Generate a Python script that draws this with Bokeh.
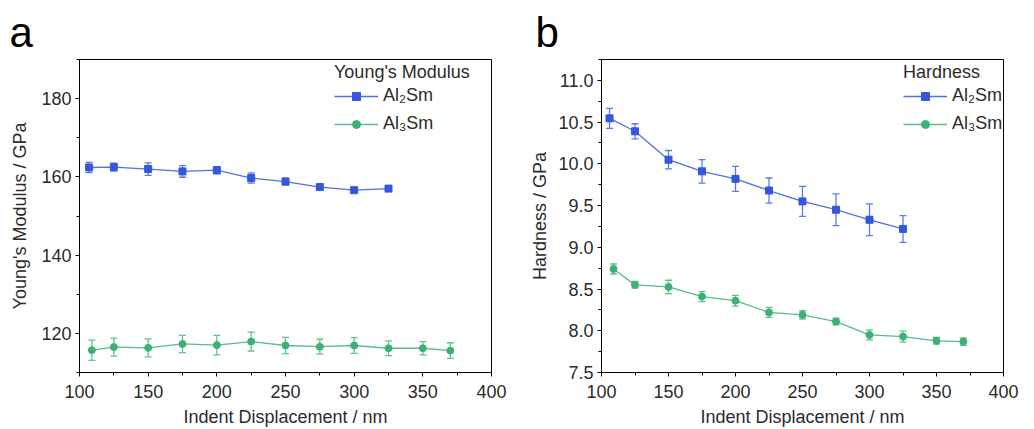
from bokeh.plotting import figure
from bokeh.models import (ColumnDataSource, Whisker, TeeHead, Legend, LegendItem, Title,
                          SingleIntervalTicker, NumeralTickFormatter, Range1d)
from bokeh.layouts import row
from bokeh.embed import file_html
from bokeh.resources import INLINE

# ---------------- data ----------------
x_e_al2 = [107, 125, 150, 175, 200, 225, 250, 275, 300, 325]
E_al2 = [162.4, 162.5, 162.0, 161.4, 161.7, 159.7, 158.8, 157.4, 156.6, 157.0]
E_al2_err = [1.3, 1.0, 1.6, 1.5, 0.9, 1.3, 0.9, 0.6, 0.55, 0.55]

x_e_al3 = [109, 125, 150, 175, 200, 225, 250, 275, 300, 325, 350, 370]
E_al3 = [115.7, 116.5, 116.3, 117.3, 117.0, 117.9, 116.9, 116.6, 116.9, 116.2, 116.2, 115.6]
E_al3_err = [2.6, 2.3, 2.3, 2.2, 2.5, 2.4, 2.1, 1.9, 2.0, 1.9, 1.7, 2.0]

x_h_al2 = [106, 125, 150, 175, 200, 225, 250, 275, 300, 325]
H_al2 = [10.545, 10.39, 10.05, 9.91, 9.82, 9.68, 9.55, 9.45, 9.33, 9.22]
H_al2_err = [0.12, 0.09, 0.11, 0.14, 0.15, 0.15, 0.18, 0.19, 0.19, 0.16]

x_h_al3 = [109, 125, 150, 175, 200, 225, 250, 275, 300, 325, 350, 370]
H_al3 = [8.74, 8.55, 8.525, 8.41, 8.36, 8.22, 8.19, 8.11, 7.95, 7.93, 7.88, 7.87]
H_al3_err = [0.06, 0.04, 0.08, 0.06, 0.065, 0.06, 0.05, 0.04, 0.06, 0.065, 0.04, 0.045]

series_names = ["Al\u2082Sm", "Al\u2083Sm"]
x_label = "Indent Displacement / nm"
y_label_a = "Young's Modulus / GPa"
y_label_b = "Hardness / GPa"
legend_title_a = "Young's Modulus"
legend_title_b = "Hardness"

BLUE = "#3457DC"
BLUE_ERR = "#5C7BE3"
GREEN = "#3BB273"
GREEN_ERR = "#62C28E"
FONT = "Liberation Sans"
TXT = "#2b2b2b"


def style(p, y_interval):
    p.outline_line_color = "black"
    p.outline_line_width = 1
    p.xgrid.visible = False
    p.ygrid.visible = False
    for ax in (p.xaxis[0], p.yaxis[0]):
        ax.axis_line_color = "black"
        ax.major_tick_line_color = "black"
        ax.minor_tick_line_color = "black"
        ax.major_tick_in = 0
        ax.major_tick_out = 4
        ax.minor_tick_in = 0
        ax.minor_tick_out = 3
        ax.major_label_text_font = FONT
        ax.major_label_text_font_size = "18px"
        ax.major_label_text_color = TXT
        ax.axis_label_text_font = FONT
        ax.axis_label_text_font_size = "18px"
        ax.axis_label_text_font_style = "normal"
        ax.axis_label_text_color = TXT
        ax.major_label_standoff = 4
    p.xaxis[0].ticker = SingleIntervalTicker(interval=50, num_minor_ticks=2)
    p.yaxis[0].ticker = SingleIntervalTicker(interval=y_interval, num_minor_ticks=2)
    p.xaxis[0].major_label_standoff = 8
    p.xaxis[0].axis_label_standoff = 6


def add_series(p, x, y, err, color, ecolor, marker, msize):
    src = ColumnDataSource(dict(x=x, y=y, lo=[a - b for a, b in zip(y, err)],
                                hi=[a + b for a, b in zip(y, err)]))
    w = Whisker(base="x", upper="hi", lower="lo", source=src, line_color=ecolor, line_width=1.3,
                upper_head=TeeHead(size=7, line_color=ecolor, line_width=1.3),
                lower_head=TeeHead(size=7, line_color=ecolor, line_width=1.3))
    p.add_layout(w)
    l = p.line("x", "y", source=src, line_color=color, line_width=1.3, line_alpha=0.85)
    s = p.scatter("x", "y", source=src, marker=marker, size=msize, fill_color=color,
                  line_color=color)
    return [l, s]


def make_legend(p, title, items, loc):
    leg = Legend(items=items, location=loc, title=title)
    leg.title_text_font = FONT
    leg.title_text_font_size = "18px"
    leg.title_text_font_style = "normal"
    leg.title_text_color = TXT
    leg.title_standoff = 2
    leg.label_text_font = FONT
    leg.label_text_font_size = "18px"
    leg.label_text_color = TXT
    leg.glyph_width = 44
    leg.glyph_height = 20
    leg.label_standoff = 5
    leg.spacing = 7
    leg.padding = 4
    leg.margin = 0
    leg.background_fill_alpha = 0
    leg.border_line_alpha = 0
    p.add_layout(leg)


def panel_letter(p, letter, offset):
    t = Title(text=letter, align="left", offset=offset, standoff=7, text_font=FONT,
              text_font_size="42px", text_font_style="normal", text_color="black")
    p.add_layout(t, "above")


# ---------------- panel a ----------------
pa = figure(width=520, height=429, output_backend="svg", toolbar_location=None,
            x_range=Range1d(100, 400), y_range=Range1d(110, 190),
            min_border_left=79, min_border_right=29, min_border_top=59, min_border_bottom=50,
            x_axis_label=x_label, y_axis_label=y_label_a)
style(pa, 20)
pa.yaxis[0].axis_label_standoff = 8
ra1 = add_series(pa, x_e_al2, E_al2, E_al2_err, BLUE, BLUE_ERR, "square", 7)
ra2 = add_series(pa, x_e_al3, E_al3, E_al3_err, GREEN, GREEN_ERR, "circle", 7)
make_legend(pa, legend_title_a,
            [LegendItem(label=series_names[0], renderers=ra1),
             LegendItem(label=series_names[1], renderers=ra2)], (251, 234))
panel_letter(pa, "a", -70)

# ---------------- panel b ----------------
pb = figure(width=514, height=429, output_backend="svg", toolbar_location=None,
            x_range=Range1d(100, 400), y_range=Range1d(7.5, 11.25),
            min_border_left=81, min_border_right=31, min_border_top=59, min_border_bottom=50,
            x_axis_label=x_label, y_axis_label=y_label_b)
style(pb, 0.5)
pb.yaxis[0].formatter = NumeralTickFormatter(format="0.0")
pb.yaxis[0].axis_label_standoff = 5
rb1 = add_series(pb, x_h_al2, H_al2, H_al2_err, BLUE, BLUE_ERR, "square", 7)
rb2 = add_series(pb, x_h_al3, H_al3, H_al3_err, GREEN, GREEN_ERR, "circle", 7)
make_legend(pb, legend_title_b,
            [LegendItem(label=series_names[0], renderers=rb1),
             LegendItem(label=series_names[1], renderers=rb2)], (298, 234))
panel_letter(pb, "b", -66)

layout = row(pa, pb)
open("out.html", "w").write(file_html(layout, INLINE))
